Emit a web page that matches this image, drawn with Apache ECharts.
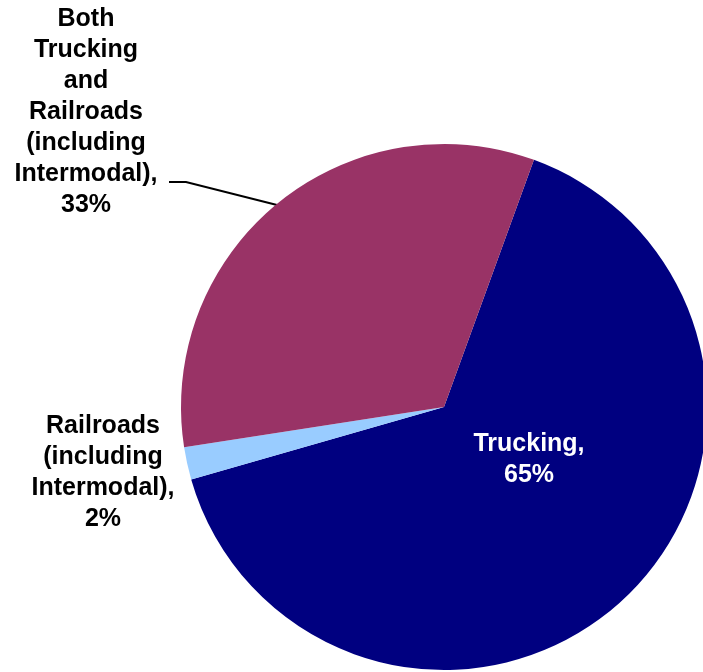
<!DOCTYPE html>
<html>
<head>
<meta charset="utf-8">
<script src="https://cdn.jsdelivr.net/npm/echarts@6/dist/echarts.min.js"></script>
<style>
  html, body { margin: 0; padding: 0; background: #ffffff; }
  #chart { width: 703px; height: 672px; }
</style>
</head>
<body>
<div id="chart"></div>
<script>
// Freight mode shares
const categories = [
  'Trucking',
  'Railroads (including Intermodal)',
  'Both Trucking and Railroads (including Intermodal)'
];
const shares = [65, 2, 33];
const labelTexts = [
  'Trucking,',
  'Railroads\n(including\nIntermodal),',
  'Both\nTrucking\nand\nRailroads\n(including\nIntermodal),'
];
const sliceColors = ['#000080', '#99CCFF', '#993366'];

const chart = echarts.init(document.getElementById('chart'), null, { renderer: 'canvas' });

const baseFont = {
  fontFamily: '"Liberation Sans", Arial, sans-serif',
  fontWeight: 'bold',
  fontSize: 25,
  lineHeight: 31
};

const seriesData = categories.map(function (name, i) {
  const item = {
    name: name,
    value: shares[i],
    itemStyle: { color: sliceColors[i] },
    label: Object.assign({
      formatter: labelTexts[i] + '\n' + shares[i] + '%',
      color: i === 0 ? '#ffffff' : '#000000',
      position: i === 0 ? 'inside' : 'outside',
      align: 'center'
    }, baseFont),
    labelLine: { show: i === 2, lineStyle: { color: '#000000', width: 2 } }
  };
  return item;
});

// Label anchor placement (centre of each text block) and leader line route
const labelAnchors = [
  { x: 529, y: 460 },
  { x: 103, y: 473 },
  { x: 86, y: 112 }
];

chart.setOption({
  animation: false,
  backgroundColor: '#ffffff',
  series: [{
    type: 'pie',
    center: [444, 407],
    radius: 263,
    startAngle: 70,
    clockwise: true,
    avoidLabelOverlap: false,
    data: seriesData,
    labelLine: { show: true, length: 10, length2: 10 },
    labelLayout: function (params) {
      const a = labelAnchors[params.dataIndex];
      const out = {
        x: a.x,
        y: a.y,
        align: 'center',
        verticalAlign: 'middle'
      };
      if (params.dataIndex === 2) {
        out.labelLinePoints = [[169, 182], [186, 182], [277, 205]];
      }
      return out;
    }
  }]
});
</script>
</body>
</html>
